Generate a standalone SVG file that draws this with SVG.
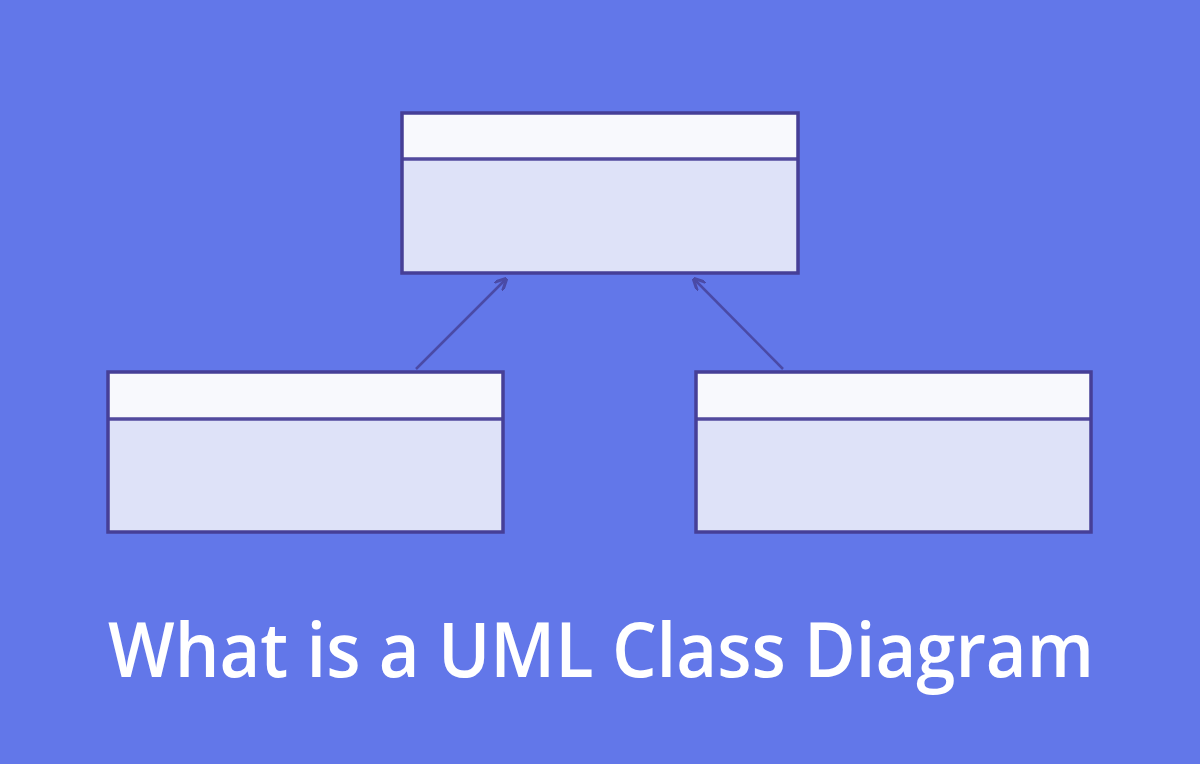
<svg xmlns="http://www.w3.org/2000/svg" width="1200" height="764" viewBox="0 0 1200 764">
<defs>
<style>
.head{fill:#f8f9fd}
.body{fill:#dee2f8}
.frame{fill:none;stroke:#463f97;stroke-width:3.5}
.div{stroke:#524a9e;stroke-width:3.5}
.conn{stroke:#4a4aa6;stroke-width:2.5;fill:none}
.title{font-family:"Open Sans","Liberation Sans",sans-serif;font-size:76px;fill:#ffffff;font-weight:600}
</style>
<marker id="arr" viewBox="0 0 10 10" refX="9" refY="5" markerWidth="5" markerHeight="5" orient="auto" markerUnits="strokeWidth">
<path d="M0,0 L10,5 L0,10" fill="none" stroke="#4a4aa6" stroke-width="2.5"/>
</marker>
</defs>
<rect width="1200" height="764" fill="#6277e9"/>
<g id="node-parent">
<rect class="body" x="402" y="113" width="396" height="160"/>
<rect class="head" x="402" y="113" width="396" height="46"/>
<line class="div" x1="402" y1="159" x2="798" y2="159"/>
<rect class="frame" x="402" y="113" width="396" height="160"/>
</g>
<g id="node-left">
<rect class="body" x="108" y="372" width="395" height="160"/>
<rect class="head" x="108" y="372" width="395" height="46"/>
<line class="div" x1="108" y1="419" x2="503" y2="419"/>
<rect class="frame" x="108" y="372" width="395" height="160"/>
</g>
<g id="node-right">
<rect class="body" x="696" y="372" width="395" height="160"/>
<rect class="head" x="696" y="372" width="395" height="46"/>
<line class="div" x1="696" y1="419" x2="1091" y2="419"/>
<rect class="frame" x="696" y="372" width="395" height="160"/>
</g>
<g id="connectors">
<line class="conn" x1="416" y1="369" x2="506" y2="279" marker-end="url(#arr)"/>
<line class="conn" x1="783" y1="369" x2="694" y2="279" marker-end="url(#arr)"/>
</g>
<text class="title" x="108" y="677" textLength="986" lengthAdjust="spacingAndGlyphs">What is a UML Class Diagram</text>
</svg>
